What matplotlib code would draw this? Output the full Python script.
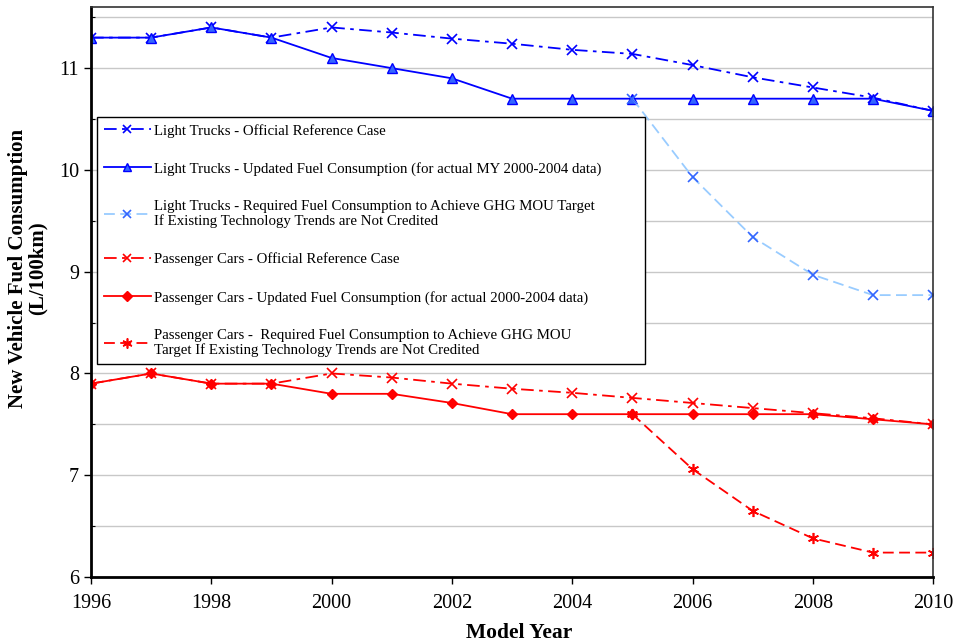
import matplotlib
matplotlib.use("Agg")
import matplotlib.pyplot as plt
from matplotlib.ticker import MultipleLocator

plt.rcParams['font.family'] = ['Liberation Serif', 'DejaVu Serif']

years = list(range(1996, 2011))
req_years = list(range(2005, 2011))

lt_official = [11.3, 11.3, 11.4, 11.3, 11.4, 11.35, 11.29, 11.24, 11.18, 11.14, 11.03, 10.91, 10.81, 10.71, 10.58]
lt_updated = [11.3, 11.3, 11.4, 11.3, 11.1, 11.0, 10.9, 10.7, 10.7, 10.7, 10.7, 10.7, 10.7, 10.7, 10.58]
lt_required = [10.7, 9.93, 9.34, 8.97, 8.77, 8.77]

pc_official = [7.9, 8.0, 7.9, 7.9, 8.0, 7.96, 7.9, 7.85, 7.81, 7.76, 7.71, 7.66, 7.61, 7.56, 7.5]
pc_updated = [7.9, 8.0, 7.9, 7.9, 7.8, 7.8, 7.71, 7.6, 7.6, 7.6, 7.6, 7.6, 7.6, 7.55, 7.5]
pc_required = [7.6, 7.06, 6.65, 6.38, 6.24, 6.24]

labels = [
    "Light Trucks - Official Reference Case",
    "Light Trucks - Updated Fuel Consumption (for actual MY 2000-2004 data)",
    "Light Trucks - Required Fuel Consumption to Achieve GHG MOU Target\nIf Existing Technology Trends are Not Credited",
    "Passenger Cars - Official Reference Case",
    "Passenger Cars - Updated Fuel Consumption (for actual 2000-2004 data)",
    "Passenger Cars -  Required Fuel Consumption to Achieve GHG MOU\nTarget If Existing Technology Trends are Not Credited",
]

fig = plt.figure(figsize=(9.57, 6.44), dpi=100)
ax = fig.add_axes([0.0951, 0.104, 0.880, 0.885])

blue = "#0000FF"
lblue = "#99CCFF"
red = "#FF0000"
dashdot = (0, (7, 3, 2, 3))
dashed = (0, (6, 3))

h1, = ax.plot(years, lt_official, color=blue, linestyle=dashdot, lw=1.3,
              marker='x', ms=7, mew=1.2, mec=blue)
h2, = ax.plot(years, lt_updated, color=blue, linestyle='-', lw=1.3,
              marker='^', ms=6.5, mfc="#3366FF", mec=blue)
h3, = ax.plot(req_years, lt_required, color=lblue, linestyle=dashed, lw=1.3,
              marker='x', ms=7, mew=1.2, mec="#3366FF")
h4, = ax.plot(years, pc_official, color=red, linestyle=dashdot, lw=1.3,
              marker='x', ms=7, mew=1.2, mec=red)
h5, = ax.plot(years, pc_updated, color=red, linestyle='-', lw=1.3,
              marker='D', ms=5.5, mfc=red, mec=red)
h6, = ax.plot(req_years, pc_required, color=red, linestyle=dashed, lw=1.3,
              marker=(6, 2, 0), ms=8, mew=1.2, mec=red)

ax.set_xlim(1996, 2010)
ax.set_ylim(6, 11.6)
ax.xaxis.set_major_locator(MultipleLocator(2))
ax.yaxis.set_major_locator(MultipleLocator(1))
ax.yaxis.set_minor_locator(MultipleLocator(0.5))
ax.grid(True, which='both', axis='y', color='#C8C8C8', lw=1.0)
ax.set_axisbelow(True)
ax.tick_params(axis='both', which='major', labelsize=14.5, direction='out', length=5, width=1)
ax.tick_params(axis='y', which='minor', direction='in', length=3, width=0.8)
ax.tick_params(axis='x', pad=7)

for side in ['left', 'bottom']:
    ax.spines[side].set_linewidth(2.0)
    ax.spines[side].set_color('black')
for side in ['top', 'right']:
    ax.spines[side].set_linewidth(1.2)
    ax.spines[side].set_color('#333333')

ax.set_xlabel("Model Year", fontsize=15.5, fontweight='bold')
ax.xaxis.set_label_coords(0.508, -0.080)
ax.set_ylabel("New Vehicle Fuel Consumption\n(L/100km)", fontsize=15,
              fontweight='bold', linespacing=1.0)
ax.yaxis.set_label_coords(-0.051, 0.542)

leg = ax.legend([h1, h2, h3, h4, h5, h6], labels, loc='upper left',
                bbox_to_anchor=(0.007, 0.38, 0.651, 0.427), mode='expand',
                fontsize=10.7, frameon=True,
                fancybox=False, edgecolor='black', framealpha=1,
                borderpad=0.45, labelspacing=1.63, handlelength=3.2,
                handletextpad=0.2, borderaxespad=0, markerscale=0.9)
leg.get_frame().set_linewidth(1.0)
for t in leg.get_texts():
    t.set_linespacing(1.15)

fig.savefig("out.png", dpi=100)
